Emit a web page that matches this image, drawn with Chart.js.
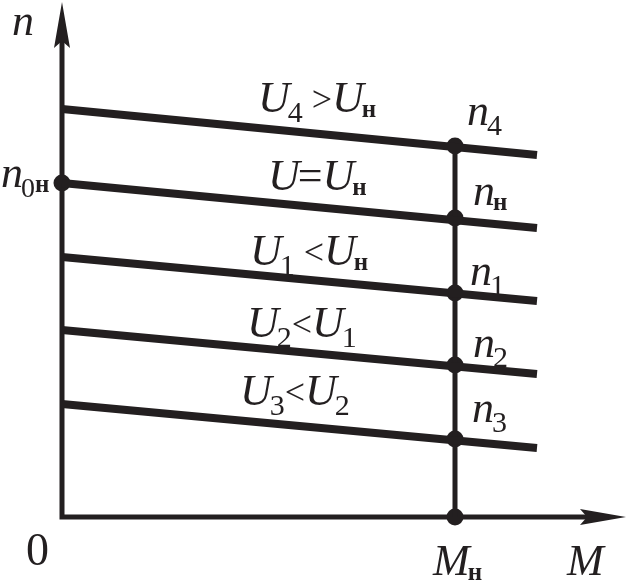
<!DOCTYPE html>
<html>
<head>
<meta charset="utf-8">
<script src="https://cdn.jsdelivr.net/npm/chart.js@4"></script>
<style>
  body { margin: 0; background: #fff; }
  canvas { display: block; }
</style>
</head>
<body>
<canvas id="myChart" width="628" height="581"></canvas>
<script>
// torque axis (M) and speed axis (n), arbitrary units
const torqueMax = 564;
const speedMax = 515;
const torqueStart = 0;
const torqueEnd = 475;
const ratedTorque = 393;

// characteristics, top to bottom: U4, Uн, U1, U2, U3
const speedStart = [408, 334, 260, 187, 113];
const speedEnd = [362, 289, 216, 143, 69];
const speedAtRated = [371, 299, 224, 152, 78];
const noLoadSpeed = 334;

// rich text pieces: [text, kind]  i = italic, s = subscript, c = small н, o = operator
const curveLabels = [
  [['U', 'i'], ['4', 's'], [' >', 'o'], ['U', 'i'], ['н', 'c']],
  [['U', 'i'], ['=', 'e'], ['U', 'i'], ['н', 'c']],
  [['U', 'i'], ['1', 's'], [' <', 'o'], ['U', 'i'], ['н', 'c']],
  [['U', 'i'], ['2', 's'], ['<', 'o'], ['U', 'i'], ['1', 's']],
  [['U', 'i'], ['3', 's'], ['<', 'o'], ['U', 'i'], ['2', 's']]
];
const speedLabels = [
  [['n', 'i'], ['4', 's']],
  [['n', 'i'], ['н', 'c']],
  [['n', 'i'], ['1', 's']],
  [['n', 'i'], ['2', 's']],
  [['n', 'i'], ['3', 's']]
];

const ink = '#231f20';

const fonts = {
  i: { font: 'italic 44px "Liberation Serif"', dy: 0, kern: -2 },
  s: { font: '30px "Liberation Serif"', dy: 10, kern: 0 },
  c: { font: 'bold 25px "Liberation Serif"', dy: 5, kern: 0 },
  o: { font: '36px "Liberation Serif"', dy: -1, kern: 0 },
  e: { font: '44px "Liberation Serif"', dy: 0, kern: 0 },
  r: { font: '46px "Liberation Serif"', dy: 0, kern: 0 },
  z: { font: '28px "Liberation Serif"', dy: 10, kern: 0 }
};

function drawRich(ctx, x, y, parts) {
  parts.forEach(([t, k]) => {
    const f = fonts[k];
    ctx.font = f.font;
    ctx.fillText(t, x, y + f.dy);
    x += ctx.measureText(t).width + f.kern;
  });
}

// label anchors in pixels (baseline-left)
const curveLabelPos = [[258, 112], [268, 190], [250, 265], [247, 337], [240, 405]];
const speedLabelPos = [[467, 125], [473, 205], [470, 285], [473, 357], [472, 422]];

const axesAndText = {
  id: 'axesAndText',
  beforeDatasetsDraw(chart) {
    const { ctx, chartArea: a } = chart;
    ctx.save();
    ctx.strokeStyle = ink;
    ctx.fillStyle = ink;
    ctx.lineWidth = 5;
    ctx.beginPath();
    ctx.moveTo(a.left, a.top + 30);
    ctx.lineTo(a.left, a.bottom);
    ctx.lineTo(a.right - 30, a.bottom);
    ctx.stroke();
    // y arrow
    ctx.beginPath();
    ctx.moveTo(a.left, a.top);
    ctx.lineTo(a.left + 8, a.top + 46);
    ctx.lineTo(a.left, a.top + 39);
    ctx.lineTo(a.left - 8, a.top + 46);
    ctx.closePath();
    ctx.fill();
    // x arrow
    ctx.beginPath();
    ctx.moveTo(a.right, a.bottom);
    ctx.lineTo(a.right - 46, a.bottom - 8);
    ctx.lineTo(a.right - 39, a.bottom);
    ctx.lineTo(a.right - 46, a.bottom + 8);
    ctx.closePath();
    ctx.fill();
    ctx.restore();
  },
  afterDraw(chart) {
    const { ctx } = chart;
    ctx.save();
    ctx.fillStyle = ink;
    ctx.textBaseline = 'alphabetic';
    drawRich(ctx, 12, 35, [['n', 'i']]);
    drawRich(ctx, 1, 187, [['n', 'i'], ['0', 'z'], ['н', 'c']]);
    drawRich(ctx, 26, 565, [['0', 'r']]);
    drawRich(ctx, 433, 575, [['M', 'i'], ['н', 'c']]);
    drawRich(ctx, 567, 575, [['M', 'i']]);
    curveLabels.forEach((p, i) => drawRich(ctx, curveLabelPos[i][0], curveLabelPos[i][1], p));
    speedLabels.forEach((p, i) => drawRich(ctx, speedLabelPos[i][0], speedLabelPos[i][1], p));
    ctx.restore();
  }
};

const datasets = speedStart.map((s, i) => ({
  data: [{ x: torqueStart, y: s }, { x: torqueEnd, y: speedEnd[i] }],
  showLine: true,
  borderColor: ink,
  borderWidth: 8,
  pointRadius: 0,
  clip: false
}));

datasets.push({
  data: [{ x: ratedTorque, y: 0 }, { x: ratedTorque, y: speedAtRated[0] }],
  showLine: true,
  borderColor: ink,
  borderWidth: 5,
  pointRadius: 0,
  clip: false
});

datasets.push({
  data: [{ x: 0, y: noLoadSpeed }, { x: ratedTorque, y: 0 }]
    .concat(speedAtRated.map(v => ({ x: ratedTorque, y: v }))),
  showLine: false,
  pointRadius: 8.5,
  pointBackgroundColor: ink,
  pointBorderWidth: 0,
  clip: false
});

new Chart('myChart', {
  type: 'scatter',
  data: { datasets },
  options: {
    responsive: false,
    devicePixelRatio: 1,
    animation: false,
    layout: { autoPadding: false, padding: { left: 62, right: 2, top: 2, bottom: 64 } },
    scales: {
      x: { type: 'linear', min: 0, max: torqueMax, display: false },
      y: { type: 'linear', min: 0, max: speedMax, display: false }
    },
    plugins: { legend: { display: false }, tooltip: { enabled: false } }
  },
  plugins: [axesAndText]
});
</script>
</body>
</html>
